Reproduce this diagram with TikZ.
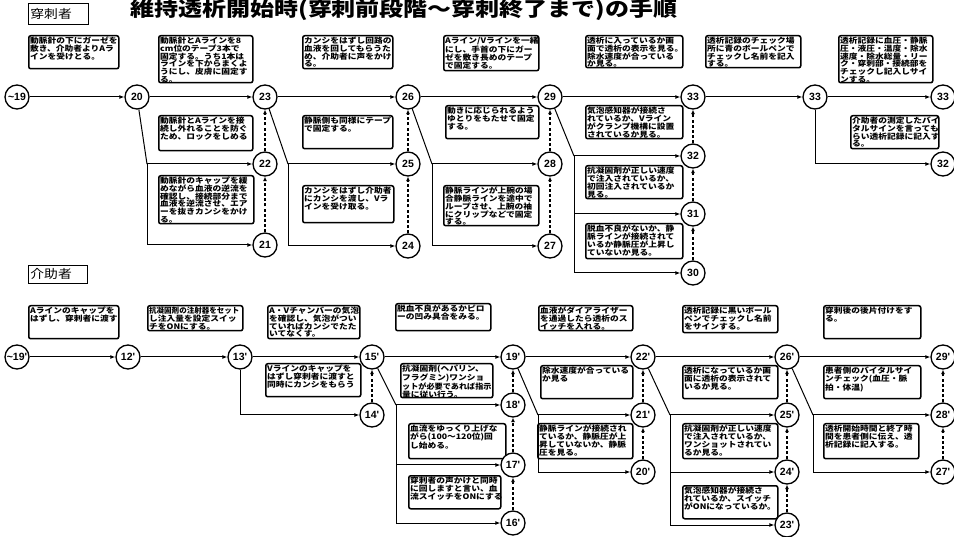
\documentclass[tikz,border=0pt]{standalone}
\usepackage{fontspec}
\usepackage{graphicx}
\setmainfont{Noto Sans CJK JP}
\newfontfamily\jpw[FakeStretch=1.15]{Noto Sans CJK JP}
\newfontfamily\jpt[FakeStretch=1.2]{Noto Sans CJK JP}
\newfontfamily\numf{Liberation Sans}
\usetikzlibrary{arrows.meta}
\newcommand{\jbox}[6]{%
  \node[boxsty, minimum width=#4pt, minimum height=#5pt] (#1) at (#2,#3) {};
  \node[txtsty] (#1t) at ([xshift=2pt,yshift=-1.8pt]#1.north west) {#6};}
\begin{document}
\begin{tikzpicture}[x=1pt,y=-1pt,
  boxsty/.style={draw, line width=1.5pt, rounded corners=2pt, anchor=north west, inner sep=0pt},
  txtsty/.style={inner sep=0pt, align=left, anchor=north west, font=\jpw\bfseries\fontsize{7.6}{7.8}\selectfont},
  circ/.style={draw, circle, line width=1.3pt, minimum size=24pt, inner sep=0pt, fill=white, font=\numf\bfseries\fontsize{10.5}{10.5}\selectfont},
  flow/.style={line width=1pt, -{Latex[length=5pt,width=4pt]}},
  plain/.style={line width=1pt},
  dflow/.style={line width=1.2pt, dash pattern=on 3pt off 2.2pt, -{Latex[length=4.5pt,width=4pt]}},
  lab/.style={draw, line width=0.8pt, anchor=north west, inner xsep=2pt, inner ysep=0pt, align=left, font=\jpw\fontsize{12}{12}\selectfont}
]
\useasboundingbox (0,0) rectangle (954,537);

% title and labels
\node[font=\jpt\bfseries\fontsize{20}{20}\selectfont] (title) at (404,10) {維持透析開始時(穿刺前段階～穿刺終了まで)の手順};
\node[lab, minimum width=60pt, minimum height=21pt, text width=56pt] (lab1) at (28,3) {穿刺者};
\node[lab, minimum width=59pt, minimum height=18pt, text width=55pt] (lab2) at (28,265) {介助者};

% ---------- top boxes ----------
\jbox{T1}{28}{35}{90}{33}{動脈針の下にガーゼを\\敷き、介助者よりAラ\\インを受けとる。}
\jbox{T2}{158}{35}{94}{47}{動脈針とAラインを8\\cm位のテープ3本で\\固定する。うち1本は\\ラインを下からまくよ\\うにし、皮膚に固定す\\る。}
\jbox{T3}{302}{35}{90}{33}{カンシをはずし回路の\\血液を回してもらうた\\め、介助者に声をかけ\\る。}
\jbox{T4}{443}{35}{95}{35}{Aライン/Vラインを一緒\\にし、手首の下にガー\\ゼを敷き長めのテープ\\で固定する。}
\jbox{T5}{585}{35}{97}{32}{透析に入っているか画\\面で透析の表示を見る。\\除水速度が合っている\\か見る。}
\jbox{T6}{705}{35}{95}{32}{透析記録のチェック場\\所に青のボールペンで\\チェックし名前を記入\\する。}
\jbox{T7}{838}{35}{94}{47}{透析記録に血圧・静脈\\圧・液圧・温度・除水\\速度・除水総量・リー\\ク・穿刺部・接続部を\\チェックし記入しサイ\\ンする。}

\jbox{S1}{158}{115}{94}{35}{動脈針とAラインを接\\続し外れることを防ぐ\\ため、ロックをしめる}
\jbox{S2}{158}{175}{95}{48}{動脈針のキャップを緩\\めながら血液の逆流を\\確認し、接続部分まで\\血液を逆流させ、エア\\ーを抜きカンシをかけ\\る。}
\jbox{S3}{302}{115}{90}{33}{静脈側も同様にテープ\\で固定する。}
\jbox{S4}{302}{185}{91}{37}{カンシをはずし介助者\\にカンシを渡し、Vラ\\インを受け取る。}
\jbox{S5}{445}{105}{93}{33}{動きに応じられるよう\\ゆとりをもたせて固定\\する。}
\jbox{S6}{443}{185}{95}{40}{静脈ラインが上腕の場\\合静脈ラインを途中で\\ループさせ、上腕の袖\\にクリップなどで固定\\する。}
\jbox{S7}{585}{105}{97}{33}{気泡感知器が接続さ\\れているか、Vライン\\がクランプ機構に設置\\されているか見る。}
\jbox{S8}{585}{165}{97}{33}{抗凝固剤が正しい速度\\で注入されているか、\\初回注入されているか\\見る。}
\jbox{S9}{585}{223}{97}{35}{脱血不良がないか、静\\脈ラインが接続されて\\いるか静脈圧が上昇し\\ていないか見る。}
\jbox{S10}{850}{115}{88}{33}{介助者の測定したバイ\\タルサインを言っても\\らい透析記録に記入す\\る。}

% ---------- bottom boxes ----------
\jbox{B1}{28}{305}{90}{33}{Aラインのキャップを\\はずし、穿刺者に渡す}
\jbox{B2}{147}{305}{95}{25}{\scalebox{0.86}[1]{抗凝固剤の注射器をセット}\\し注入量を設定スイッ\\チをONにする。}
\jbox{B3}{267}{305}{92}{33}{A・Vチャンバーの気泡\\を確認し、気泡がつい\\ていればカンシでたた\\いてなくす。}
\jbox{B4}{395}{303}{95}{27}{脱血不良があるかピロ\\ーの凹み具合をみる。}
\jbox{B5}{538}{305}{94}{25}{血液がダイアライザー\\を通過したら透析のス\\イッチを入れる。}
\jbox{B6}{682}{305}{95}{27}{透析記録に黒いボール\\ペンでチェックし名前\\をサインする。}
\jbox{B7}{823}{305}{97}{33}{穿刺後の後片付けをす\\る。}

\jbox{B8}{265}{363}{95}{33}{Vラインのキャップを\\はずし穿刺者に渡すと\\同時にカンシをもらう}
\jbox{B9}{400}{363}{92}{34}{抗凝固剤(ヘパリン、\\フラグミン)ワンショ\\\scalebox{0.93}[1]{ットが必要であれば指示}\\量に従い行う。}
\jbox{B10}{408}{423}{97}{35}{血流をゆっくり上げな\\がら(100～120位)回\\し始める。}
\jbox{B11}{408}{475}{92}{33}{穿刺者の声かけと同時\\に回しますと言い、血\\流スイッチをONにする}
\jbox{B12}{540}{365}{92}{33}{除水速度が合っている\\か見る}
\jbox{B13}{537}{423}{95}{35}{静脈ラインが接続され\\ているか、静脈圧が上\\昇していないか、静脈\\圧を見る。}
\jbox{B14}{682}{365}{95}{33}{透析になっているか画\\面に透析の表示されて\\いるか見る。}
\jbox{B15}{682}{423}{95}{35}{抗凝固剤が正しい速度\\で注入されているか、\\ワンショットされてい\\るか見る。}
\jbox{B16}{682}{485}{95}{33}{気泡感知器が接続さ\\れているか、スイッチ\\がONになっているか。}
\jbox{B17}{823}{365}{97}{33}{患者側のバイタルサイ\\ンチェック(血圧・脈\\拍・体温)}
\jbox{B18}{823}{423}{95}{35}{透析開始時間と終了時\\間を患者側に伝え、透\\析記録に記入する。}

% ---------- top circles ----------
\node[circ] (c19) at (17,97) {\textasciitilde19};
\node[circ] (c20) at (137,97) {20};
\node[circ] (c23) at (265,97) {23};
\node[circ] (c26) at (408,97) {26};
\node[circ] (c29) at (550,97) {29};
\node[circ] (c33a) at (693,97) {33};
\node[circ] (c33b) at (815,97) {33};
\node[circ] (c33c) at (943,97) {33};
\node[circ] (c22) at (265,164) {22};
\node[circ] (c21) at (265,245) {21};
\node[circ] (c25) at (408,164) {25};
\node[circ] (c24) at (408,246) {24};
\node[circ] (c28) at (550,164) {28};
\node[circ] (c27) at (550,246) {27};
\node[circ] (c32) at (693,156) {32};
\node[circ] (c31) at (693,214) {31};
\node[circ] (c30) at (693,273) {30};
\node[circ] (c32b) at (943,164) {32};

\coordinate (j20) at (147,164);
\coordinate (j23) at (288,164);
\coordinate (j26) at (432,164);
\coordinate (j29) at (574,156);

\draw[flow] (c19) -- (c20);
\draw[flow] (c20) -- (c23);
\draw[flow] (c23) -- (c26);
\draw[flow] (c26) -- (c29);
\draw[flow] (c29) -- (c33a);
\draw[flow] (c33a) -- (c33b);
\draw[flow] (c33b) -- (c33c);

\draw[plain] (c20) -- (j20);
\draw[flow] (j20) -- (c22);
\draw[flow] (j20) |- (c21);
\draw[plain] (c23) -- (j23);
\draw[flow] (j23) -- (c25);
\draw[flow] (j23) |- (c24);
\draw[plain] (c26) -- (j26);
\draw[flow] (j26) -- (c28);
\draw[flow] (j26) |- (c27);
\draw[plain] (c29) -- (j29);
\draw[flow] (j29) -- (c32);
\draw[flow] (j29) |- (c31);
\draw[flow] (j29) |- (c30);
\draw[flow] (c33b) |- (c32b);

\draw[dflow] (c21) -- (c22);
\draw[dflow] (c22) -- (c23);
\draw[dflow] (c24) -- (c25);
\draw[dflow] (c25) -- (c26);
\draw[dflow] (c27) -- (c28);
\draw[dflow] (c28) -- (c29);
\draw[dflow] (c30) -- (c31);
\draw[dflow] (c31) -- (c32);
\draw[dflow] (c32) -- (c33a);

% ---------- bottom circles ----------
\node[circ] (d19) at (17,357) {\textasciitilde19'};
\node[circ] (d12) at (128,357) {12'};
\node[circ] (d13) at (240,357) {13'};
\node[circ] (d15) at (372,357) {15'};
\node[circ] (d19p) at (513,357) {19'};
\node[circ] (d22) at (643,357) {22'};
\node[circ] (d26) at (787,357) {26'};
\node[circ] (d29) at (943,357) {29'};
\node[circ] (d14) at (372,415) {14'};
\node[circ] (d18) at (513,405) {18'};
\node[circ] (d17) at (513,465) {17'};
\node[circ] (d16) at (513,523) {16'};
\node[circ] (d21) at (643,415) {21'};
\node[circ] (d20) at (643,472) {20'};
\node[circ] (d25) at (787,415) {25'};
\node[circ] (d24) at (787,472) {24'};
\node[circ] (d23) at (787,525) {23'};
\node[circ] (d28) at (943,415) {28'};
\node[circ] (d27) at (943,472) {27'};

\coordinate (k15) at (396,405);
\coordinate (k19) at (538,415);
\coordinate (k22) at (670,415);
\coordinate (k26) at (813,415);

\draw[flow] (d19) -- (d12);
\draw[flow] (d12) -- (d13);
\draw[flow] (d13) -- (d15);
\draw[flow] (d15) -- (d19p);
\draw[flow] (d19p) -- (d22);
\draw[flow] (d22) -- (d26);
\draw[flow] (d26) -- (d29);

\draw[flow] (d13) |- (d14);
\draw[plain] (d15) -- (k15);
\draw[flow] (k15) -- (d18);
\draw[flow] (k15) |- (d17);
\draw[flow] (k15) |- (d16);
\draw[plain] (d19p) -- (k19);
\draw[flow] (k19) -- (d21);
\draw[flow] (k19) |- (d20);
\draw[plain] (d22) -- (k22);
\draw[flow] (k22) -- (d25);
\draw[flow] (k22) |- (d24);
\draw[flow] (k22) |- (d23);
\draw[plain] (d26) -- (k26);
\draw[flow] (k26) -- (d28);
\draw[flow] (k26) |- (d27);

\draw[dflow] (d14) -- (d15);
\draw[dflow] (d16) -- (d17);
\draw[dflow] (d17) -- (d18);
\draw[dflow] (d18) -- (d19p);
\draw[dflow] (d20) -- (d21);
\draw[dflow] (d21) -- (d22);
\draw[dflow] (d23) -- (d24);
\draw[dflow] (d24) -- (d25);
\draw[dflow] (d25) -- (d26);
\draw[dflow] (d27) -- (d28);
\draw[dflow] (d28) -- (d29);
\end{tikzpicture}
\end{document}
